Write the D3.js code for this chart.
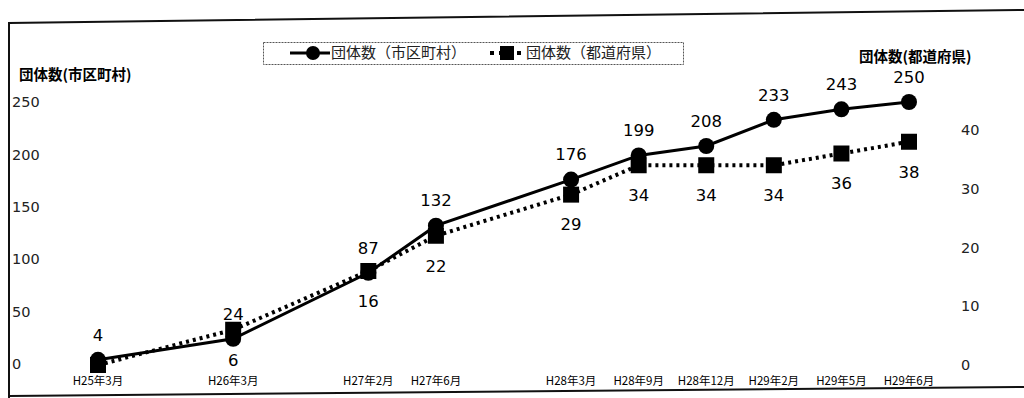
<!DOCTYPE html>
<html>
<head>
<meta charset="utf-8">
<script src="https://cdn.jsdelivr.net/npm/d3@7"></script>
<style>
  html, body { margin: 0; padding: 0; background: #fff; overflow: hidden; }
  svg { display: block; }
  .jp { font-family: "Noto Sans CJK JP", "Noto Sans", sans-serif; }
  .num { font-family: "DejaVu Sans", Verdana, sans-serif; }
</style>
</head>
<body>
<div id="chart"></div>
<script>
////////////////////////////////////////////////////////////////////////
//
// Data (blank slots are gaps on the x axis)
//
////////////////////////////////////////////////////////////////////////
var categories = ["H25年3月", "", "H26年3月", "", "H27年2月", "H27年6月", "",
                  "H28年3月", "H28年9月", "H28年12月", "H29年2月", "H29年5月", "H29年6月"];
var cityValues = [4, null, 24, null, 87, 132, null, 176, 199, 208, 233, 243, 250];
var prefValues = [0, null, 6, null, 16, 22, null, 29, 34, 34, 34, 36, 38];
var leftTicks = [0, 50, 100, 150, 200, 250];
var rightTicks = [0, 10, 20, 30, 40];
var seriesNames = ["団体数（市区町村）", "団体数（都道府県）"];
var leftTitle = "団体数(市区町村)";
var rightTitle = "団体数(都道府県)";


function init()
  {
  var width = 1024, height = 398;

  var svg = d3.select("#chart")
    .append("svg")
    .attr("width", width)
    .attr("height", height);

  //scanned frame round the chart (slightly skewed, no right edge)
  svg.append("path")
    .attr("d", "M1024,10 L9,23 L9,398")
    .attr("fill", "none")
    .attr("stroke", "#111")
    .attr("stroke-width", 2);
  svg.append("path")
    .attr("d", "M9,396 L1024,387")
    .attr("fill", "none")
    .attr("stroke", "#111")
    .attr("stroke-width", 2);

  //scales
  var x = d3.scalePoint().domain(d3.range(categories.length)).range([98, 909]);
  var yLeft = d3.scaleLinear().domain([0, 250]).range([364, 102]);
  var yRight = d3.scaleLinear().domain([0, 40]).range([365, 130]);

  //left axis
  var leftAxis = svg.append("g")
    .attr("transform", "translate(12,0)")
    .call(d3.axisRight(yLeft).tickValues(leftTicks).tickSize(0).tickPadding(0));
  leftAxis.select(".domain").remove();
  leftAxis.selectAll("text")
    .attr("class", "num")
    .style("font-size", "14.5px")
    .attr("fill", "#222");

  //right axis
  var rightAxis = svg.append("g")
    .attr("transform", "translate(961,0)")
    .call(d3.axisRight(yRight).tickValues(rightTicks).tickSize(0).tickPadding(0));
  rightAxis.select(".domain").remove();
  rightAxis.selectAll("text")
    .attr("class", "num")
    .style("font-size", "14.5px")
    .attr("fill", "#222");

  //axis titles
  svg.append("text").attr("class", "jp")
    .attr("x", 19).attr("y", 80)
    .style("font-size", "14.5px").style("font-weight", "bold")
    .text(leftTitle);
  svg.append("text").attr("class", "jp")
    .attr("x", 859).attr("y", 62)
    .style("font-size", "14.5px").style("font-weight", "bold")
    .text(rightTitle);

  //x labels
  svg.append("g").selectAll("text")
    .data(categories)
    .enter()
    .append("text")
    .attr("class", "jp")
    .attr("x", function(d, i){ return x(i); })
    .attr("y", 385)
    .attr("text-anchor", "middle")
    .style("font-size", "11.5px")
    .text(function(d){ return d; });

  var cityPts = cityValues.map(function(v, i){ return {i: i, v: v}; }).filter(function(d){ return d.v !== null; });
  var prefPts = prefValues.map(function(v, i){ return {i: i, v: v}; }).filter(function(d){ return d.v !== null; });

  //市区町村 line
  svg.append("path")
    .datum(cityPts)
    .attr("fill", "none")
    .attr("stroke", "#000")
    .attr("stroke-width", 3)
    .attr("d", d3.line().x(function(d){ return x(d.i); }).y(function(d){ return yLeft(d.v); }));
  svg.append("g").selectAll("circle")
    .data(cityPts)
    .enter()
    .append("circle")
    .attr("cx", function(d){ return x(d.i); })
    .attr("cy", function(d){ return yLeft(d.v); })
    .attr("r", 8)
    .attr("fill", "#000");

  //都道府県 line (dotted)
  svg.append("path")
    .datum(prefPts)
    .attr("fill", "none")
    .attr("stroke", "#000")
    .attr("stroke-width", 4)
    .attr("stroke-dasharray", "3,4")
    .attr("d", d3.line().x(function(d){ return x(d.i); }).y(function(d){ return yRight(d.v); }));
  svg.append("g").selectAll("rect")
    .data(prefPts)
    .enter()
    .append("rect")
    .attr("x", function(d){ return x(d.i) - 8; })
    .attr("y", function(d){ return yRight(d.v) - 8; })
    .attr("width", 16)
    .attr("height", 16)
    .attr("fill", "#000");

  //data labels
  svg.append("g").selectAll("text")
    .data(cityPts)
    .enter()
    .append("text")
    .attr("class", "num")
    .attr("x", function(d){ return x(d.i); })
    .attr("y", function(d){ return yLeft(d.v) - 25; })
    .attr("dy", "0.35em")
    .attr("text-anchor", "middle")
    .style("font-size", "16.5px")
    .text(function(d){ return d.v; });
  svg.append("g").selectAll("text")
    .data(prefPts.filter(function(d){ return d.v > 0; }))
    .enter()
    .append("text")
    .attr("class", "num")
    .attr("x", function(d){ return x(d.i); })
    .attr("y", function(d){ return yRight(d.v) + 30; })
    .attr("dy", "0.35em")
    .attr("text-anchor", "middle")
    .style("font-size", "16.5px")
    .text(function(d){ return d.v; });

  //legend
  var legend = svg.append("g");
  legend.append("rect")
    .attr("x", 263.5).attr("y", 42.5)
    .attr("width", 420).attr("height", 22)
    .attr("fill", "#fff")
    .attr("stroke", "#555")
    .attr("stroke-width", 1)
    .attr("stroke-dasharray", "2,1");

  legend.append("line")
    .attr("x1", 290).attr("x2", 330).attr("y1", 53).attr("y2", 53)
    .attr("stroke", "#000").attr("stroke-width", 3);
  legend.append("circle")
    .attr("cx", 313).attr("cy", 53).attr("r", 7).attr("fill", "#000");
  legend.append("text").attr("class", "jp")
    .attr("x", 331).attr("y", 58)
    .style("font-size", "15px")
    .attr("fill", "#222")
    .text(seriesNames[0]);

  legend.append("line")
    .attr("x1", 490).attr("x2", 524).attr("y1", 53).attr("y2", 53)
    .attr("stroke", "#000").attr("stroke-width", 4).attr("stroke-dasharray", "4,5");
  legend.append("rect")
    .attr("x", 500).attr("y", 46).attr("width", 14).attr("height", 14).attr("fill", "#000");
  legend.append("text").attr("class", "jp")
    .attr("x", 526).attr("y", 58)
    .style("font-size", "15px")
    .attr("fill", "#222")
    .text(seriesNames[1]);

  return;
  }

init();
</script>
</body>
</html>
